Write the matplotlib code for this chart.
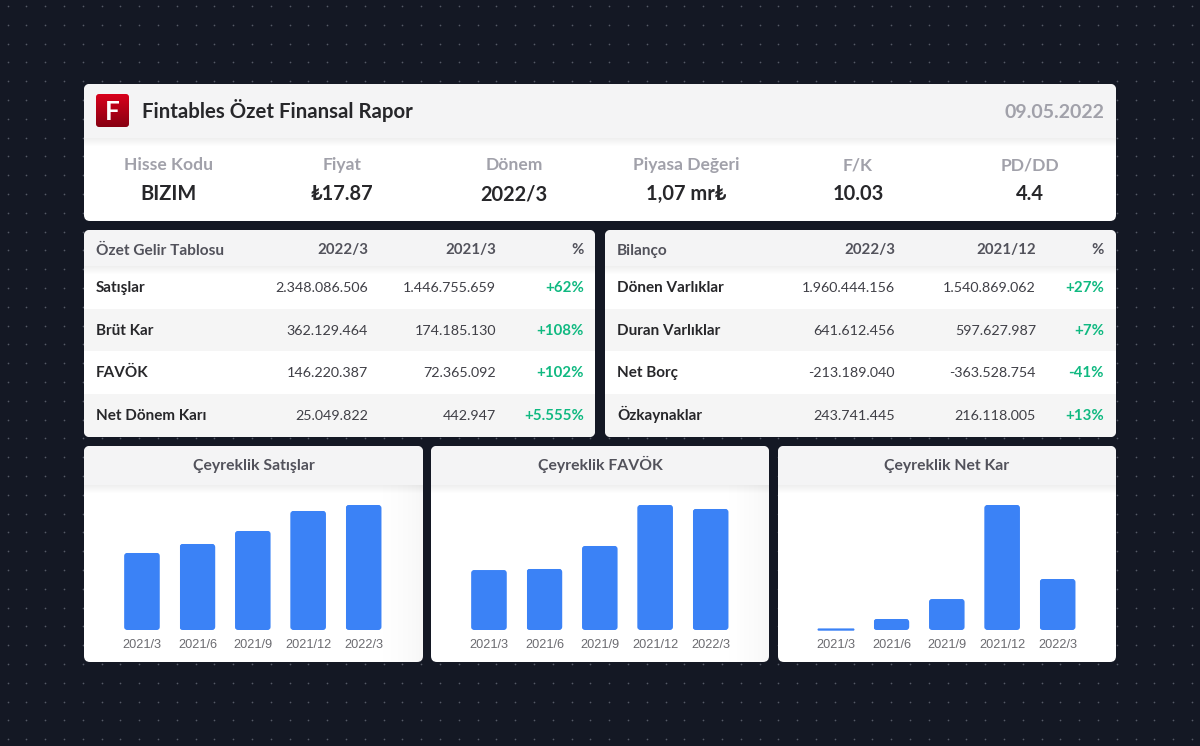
import numpy as np
import matplotlib
matplotlib.use("Agg")
import matplotlib.pyplot as plt
from matplotlib.patches import FancyBboxPatch, Rectangle

FONT = ["Lato", "Noto Sans", "DejaVu Sans"]
plt.rcParams["font.family"] = FONT

# ---- data ----
title = "Fintables Özet Finansal Rapor"
report_date = "09.05.2022"
stat_labels = ["Hisse Kodu", "Fiyat", "Dönem", "Piyasa Değeri", "F/K", "PD/DD"]
stat_values = ["BIZIM", "₺17.87", "2022/3", "1,07 mr₺", "10.03", "4.4"]

income_header = ["Özet Gelir Tablosu", "2022/3", "2021/3", "%"]
income_rows = ["Satışlar", "Brüt Kar", "FAVÖK", "Net Dönem Karı"]
income_cur = ["2.348.086.506", "362.129.464", "146.220.387", "25.049.822"]
income_prev = ["1.446.755.659", "174.185.130", "72.365.092", "442.947"]
income_pct = ["+62%", "+108%", "+102%", "+5.555%"]

balance_header = ["Bilanço", "2022/3", "2021/12", "%"]
balance_rows = ["Dönen Varlıklar", "Duran Varlıklar", "Net Borç", "Özkaynaklar"]
balance_cur = ["1.960.444.156", "641.612.456", "-213.189.040", "243.741.445"]
balance_prev = ["1.540.869.062", "597.627.987", "-363.528.754", "216.118.005"]
balance_pct = ["+27%", "+7%", "-41%", "+13%"]

quarters = ["2021/3", "2021/6", "2021/9", "2021/12", "2022/3"]
sales = [1447, 1616, 1860, 2236, 2348]
favok = [72.4, 73.8, 101.5, 151, 146.2]
net_profit = [0.44, 5.4, 15.2, 61.4, 25.05]
chart_titles = ["Çeyreklik Satışlar", "Çeyreklik FAVÖK", "Çeyreklik Net Kar"]

# ---- style ----
BG = "#141824"
BAND = "#f4f4f5"
STRIPE = "#f5f5f5"
DARK = "#27272a"
MID = "#3f3f46"
HEAD = "#52525b"
MUTED = "#a1a1aa"
GREEN = "#10b981"
BLUE = "#3b82f6"

W, H = 1200, 746
fig = plt.figure(figsize=(12, 7.46), dpi=100, facecolor=BG)
bg = fig.add_axes([0, 0, 1, 1])
bg.set_xlim(0, W)
bg.set_ylim(H, 0)
bg.axis("off")

px = 0.72  # points per pixel at 100 dpi


def txt(x, y, s, size, color, weight="normal", ha="left", family=None):
    # y is the middle of the capitals, so the baseline does not move with descenders
    return bg.text(x, y + 0.36 * size, s, fontsize=size * px, color=color, fontweight=weight,
                   ha=ha, va="baseline", family=family or FONT, zorder=6)


# dotted backdrop
gx, gy = np.meshgrid(np.arange(7.5, W, 18.8), np.arange(6, H, 18.8))
bg.scatter(gx.ravel(), gy.ravel(), s=1.5, color="#555a67", linewidths=0, zorder=1)


def card(x0, y0, x1, y1, band_to=None, stripes=(), shade=False):
    outer = FancyBboxPatch((x0, y0), x1 - x0, y1 - y0,
                           boxstyle="round,pad=0,rounding_size=6",
                           fc="white", ec="none", zorder=2)
    bg.add_patch(outer)
    parts = []
    if shade:
        g = np.linspace(0, 1, 60).reshape(1, -1) ** 2
        im = bg.imshow(np.dstack([np.full((1, 60, 3), 0.0), g[..., None] * 0.035]),
                       extent=(x1 - 60, x1, y1, y0), aspect="auto", zorder=2.1)
        parts.append(im)
    for (a, b) in stripes:
        parts.append(bg.add_patch(Rectangle((x0, a), x1 - x0, b - a, fc=STRIPE, ec="none", zorder=2.2)))
    if band_to:
        for k in range(8):
            parts.append(bg.add_patch(Rectangle((x0, band_to), x1 - x0, k + 1,
                                                fc="black", alpha=0.009, ec="none", zorder=2.3)))
        parts.append(bg.add_patch(Rectangle((x0, y0), x1 - x0, band_to - y0, fc=BAND, ec="none", zorder=2.4)))
    for p in parts:
        p.set_clip_path(outer)


# top card
card(84, 84, 1116, 221, band_to=138)
logo_clip = FancyBboxPatch((96, 94), 33, 33, boxstyle="round,pad=0,rounding_size=3",
                           fc="none", ec="none", zorder=3)
bg.add_patch(logo_clip)
grad = np.linspace(0, 1, 64)[:, None, None] * (np.array([0.53, 0.0, 0.07]) - np.array([0.85, 0.0, 0.11])) + np.array([0.85, 0.0, 0.11])
im = bg.imshow(grad, extent=(96, 129, 127, 94), aspect="auto", zorder=3)
im.set_clip_path(logo_clip)
bg.set_xlim(0, W)
bg.set_ylim(H, 0)
txt(112.5, 110.5, "F", 26, "white", "bold", "center")
txt(142, 110.5, title, 20.4, DARK, "bold")
txt(1104, 110.5, report_date, 19.5, MUTED, "bold", "right")

stat_x = [169, 342, 514, 686, 858, 1030]
for x, a, b in zip(stat_x, stat_labels, stat_values):
    txt(x, 164, a, 17.5, MUTED, "bold", "center")
    txt(x, 193, b, 20, DARK, "bold", "center")


def table(x0, x1, cols, header, rows, cur, prev, pct):
    card(x0, 230, x1, 437, band_to=266, stripes=[(309, 351), (394, 437)])
    txt(cols[0], 249, header[0], 15.4, HEAD, "bold")
    for c, h in zip(cols[1:], header[1:]):
        txt(c, 249, h, 15, HEAD, "bold", "right")
    for y, r, a, b, p in zip([287, 330, 372, 415], rows, cur, prev, pct):
        txt(cols[0], y, r, 15.2, DARK, "bold")
        txt(cols[1], y, a, 14.3, MID, "normal", "right")
        txt(cols[2], y, b, 14.3, MID, "normal", "right")
        txt(cols[3], y, p, 15, GREEN, "bold", "right")


table(84, 595, [96, 368, 496, 584], income_header, income_rows, income_cur, income_prev, income_pct)
table(605, 1116, [617, 895, 1036, 1104], balance_header, balance_rows, balance_cur, balance_prev, balance_pct)

# chart cards
cards_x = [(84, 423), (431, 769), (778, 1116)]
offsets = [114.3, 461.3, 808.3]
shaded = [True, True, False]
step = 55.4
series = [sales, favok, net_profit]
TOP, BASE = 505, 630
for (x0, x1), off, vals, name, sh in zip(cards_x, offsets, series, chart_titles, shaded):
    card(x0, 446, x1, 662, band_to=485, shade=sh)
    txt((x0 + x1) / 2, 464.5, name, 15.8, HEAD, "bold", "center")
    ax = fig.add_axes([off / W, 1 - BASE / H, 5 * step / W, (BASE - TOP) / H])
    ax.patch.set_alpha(0)
    for s in ax.spines.values():
        s.set_visible(False)
    ymax = max(vals)
    ax.set_xlim(-0.5, 4.5)
    ax.set_ylim(0, ymax)
    ax.set_yticks([])
    ax.set_xticks(range(5), quarters, family=["Liberation Sans"], fontsize=9.2, color="#6b6b70")
    ax.tick_params(axis="x", length=0, pad=6.5)
    bars = ax.bar(range(5), vals, width=35.5 / step, color=BLUE, edgecolor=BLUE, linewidth=0.8)
    yscale = ymax / (BASE - TOP)
    xscale = 1 / step
    for b in bars:
        if b.get_height() < 6 * yscale:
            # too thin for rounded corners to show: keep it legible as a blue line
            b.set_clip_on(False)
            b.set_snap(False)
            b.set_linewidth(1.0)
            continue
        rounded = FancyBboxPatch((b.get_x(), 0), b.get_width(), b.get_height(),
                                 boxstyle=f"round,pad=0,rounding_size={3 * xscale}",
                                 mutation_aspect=yscale / xscale, fc="none", ec="none",
                                 transform=ax.transData)
        ax.add_patch(rounded)
        b.set_clip_path(rounded)

fig.savefig("out.png", dpi=100, facecolor=BG)
